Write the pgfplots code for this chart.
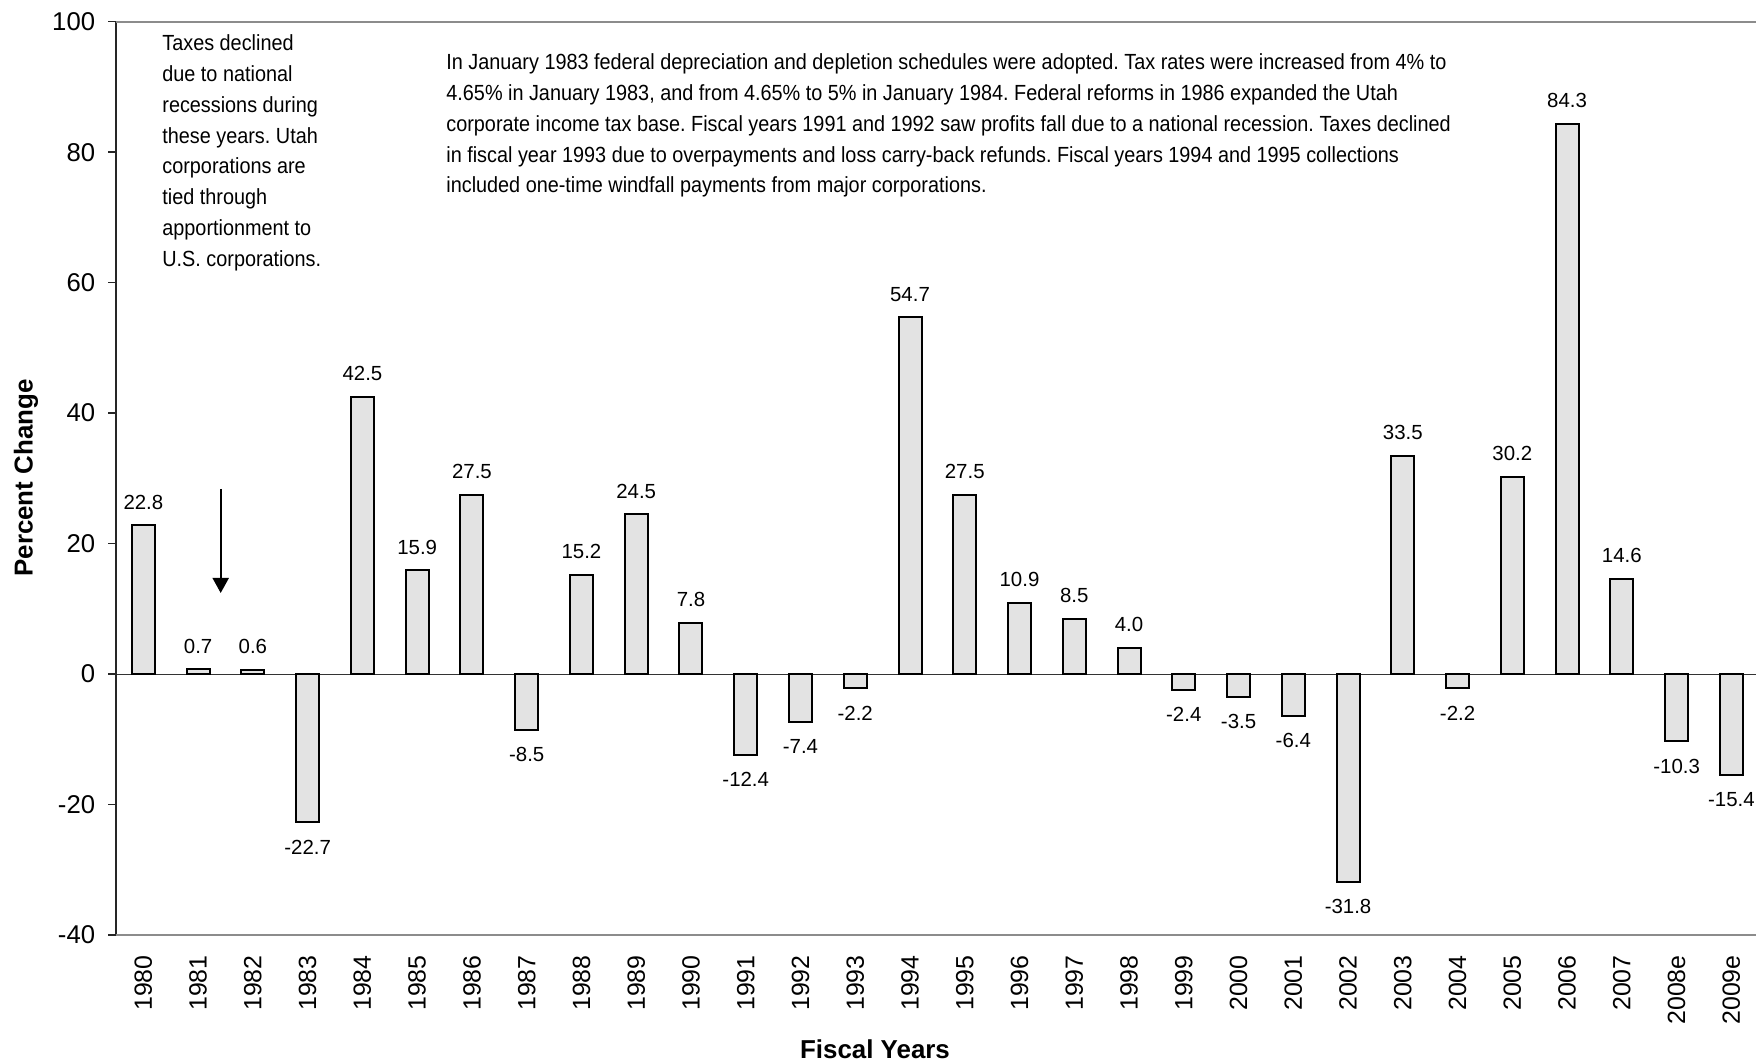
\documentclass[border=0pt]{standalone}
\usepackage{pgfplots}
\pgfplotsset{compat=1.18}
\usetikzlibrary{arrows.meta}
\usepackage{fontspec}
\setmainfont{Liberation Sans}
\newfontfamily\narrowfont[FakeStretch=0.905]{Liberation Sans}
\definecolor{barfill}{HTML}{E3E3E3}
\definecolor{framegray}{HTML}{8C8C8C}
\frenchspacing
\begin{document}
\begin{tikzpicture}
\useasboundingbox (0,0) rectangle (878bp,531.5bp);
\begin{axis}[
  at={(58bp,64bp)}, anchor=south west,
  scale only axis, width=820bp, height=456.65bp,
  xmin=-0.5, xmax=29.45, ymin=-40, ymax=100,
  ybar, bar width=11.5bp, bar shift=0pt,
  axis line style={draw=none},
  ytick={-40,-20,...,100},
  xtick={0,...,29},
  xticklabels={1980,1981,1982,1983,1984,1985,1986,1987,1988,1989,1990,1991,1992,1993,1994,1995,1996,1997,1998,1999,2000,2001,2002,2003,2004,2005,2006,2007,2008e,2009e},
  tick align=outside,
  ytick pos=left,
  xtick style={draw=none},
  ytick style={draw=black!85, line width=0.8bp},
  major tick length=4bp,
  /pgf/number format/assume math mode=true,
  yticklabel style={font=\fontsize{12.9}{15}\selectfont, anchor=east, inner sep=0pt, xshift=-6.25bp},
  xticklabel style={font=\fontsize{12.5}{15}\selectfont, rotate=90, anchor=east, inner sep=0pt, xshift=-6bp},
  extra y ticks={0}, extra y tick labels={},
  extra y tick style={grid=major, major grid style={black!80, line width=0.5bp}},
  clip=false,
  every node near coord/.append style={font=\fontsize{10.25}{12}\selectfont, inner sep=0pt, black},
]
\addplot[fill=barfill, draw=black, line width=1bp,
  nodes near coords={\pgfmathprintnumber[fixed,fixed zerofill,precision=1]{\pgfplotspointmeta}},
  every node near coord/.append style={yshift=7.5bp}]
  coordinates {(0,22.8) (1,0.7) (2,0.6) (4,42.5) (5,15.9) (6,27.5) (8,15.2) (9,24.5) (10,7.8)
  (14,54.7) (15,27.5) (16,10.9) (17,8.5) (18,4.0) (23,33.5) (25,30.2) (26,84.3) (27,14.6)};
\addplot[fill=barfill, draw=black, line width=1bp,
  nodes near coords={\pgfmathprintnumber[fixed,fixed zerofill,precision=1]{\pgfplotspointmeta}},
  every node near coord/.append style={yshift=-8.3bp}]
  coordinates {(3,-22.7) (7,-8.5) (11,-12.4) (12,-7.4) (13,-2.2) (19,-2.4) (20,-3.5) (21,-6.4)
  (22,-31.8) (24,-2.2) (28,-10.3) (29,-15.4)};
\draw[black!85, line width=0.8bp] (rel axis cs:0,0) -- (rel axis cs:0,1);
\draw[framegray, line width=1.1bp] (rel axis cs:0,1) -- (rel axis cs:1,1);
\draw[framegray, line width=1.1bp] (rel axis cs:0,0) -- (rel axis cs:1,0);
\end{axis}
\node[anchor=base west, inner sep=0pt] at (81bp,506.15bp) {\parbox[t]{200bp}{\narrowfont\fontsize{11}{15.45}\selectfont Taxes declined\\due to national\\recessions during\\these years. Utah\\corporations are\\tied through\\apportionment to\\U.S. corporations.}};
\node[anchor=base west, inner sep=0pt] at (223bp,496.5bp) {\parbox[t]{650bp}{\narrowfont\fontsize{11}{15.4}\selectfont In January 1983 federal depreciation and depletion schedules were adopted. Tax rates were increased from 4\% to\\4.65\% in January 1983, and from 4.65\% to 5\% in January 1984. Federal reforms in 1986 expanded the Utah\\corporate income tax base. Fiscal years 1991 and 1992 saw profits fall due to a national recession. Taxes declined\\in fiscal year 1993 due to overpayments and loss carry-back refunds. Fiscal years 1994 and 1995 collections\\included one-time windfall payments from major corporations.}};
\draw[line width=1bp, -{Triangle[width=8bp,length=7.5bp]}] (110.35bp,287bp) -- (110.35bp,235bp);
\node[rotate=90, anchor=base, inner sep=0pt, font=\fontsize{13}{15}\selectfont\bfseries] at (16.25bp,292.5bp) {Percent Change};
\node[anchor=base, inner sep=0pt, font=\fontsize{13}{15}\selectfont\bfseries] at (437.5bp,2.5bp) {Fiscal Years};
\end{tikzpicture}
\end{document}
